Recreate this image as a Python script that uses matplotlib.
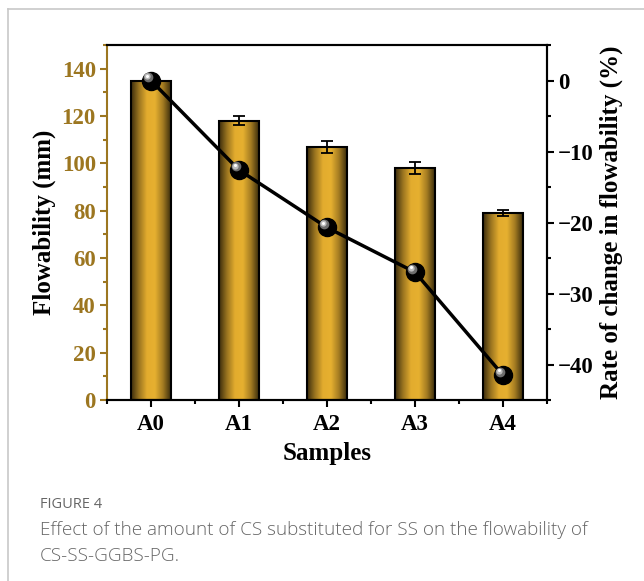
import numpy as np
import matplotlib.pyplot as plt
from matplotlib.lines import Line2D
from matplotlib.colors import LinearSegmentedColormap
from matplotlib.ticker import MultipleLocator

# Flowability data
samples = ['A0', 'A1', 'A2', 'A3', 'A4']
flowability = [135, 118, 107, 98, 79]
flow_err = [0.8, 2.0, 2.6, 2.5, 1.1]
change_rate = [0.0, -12.6, -20.7, -27.0, -41.5]

gold = '#9c7620'
serif = 'Liberation Serif'

fig = plt.figure(figsize=(6.44, 5.81), dpi=100)
ax = fig.add_axes([0.1661, 0.3115, 0.6833, 0.611])
ax2 = ax.twinx()

x = np.arange(len(samples))
width = 0.45

# bars with a horizontal gold gradient (dark edges, bright middle)
cmap = LinearSegmentedColormap.from_list('goldbar', ['#3a2c0c', '#9a7420', '#e3ac2e', '#e6b030', '#a47c22', '#3a2c0c'])
grad = np.linspace(0, 1, 256).reshape(1, -1)
for xi, h in zip(x, flowability):
    ax.imshow(grad, cmap=cmap, aspect='auto', extent=(xi - width / 2, xi + width / 2, 0, h),
              zorder=2, interpolation='bilinear')
ax.bar(x, flowability, width, facecolor='none', edgecolor='black', linewidth=1.5, zorder=3)
ax.errorbar(x, flowability, yerr=flow_err, fmt='none', ecolor='black', elinewidth=1.3,
            capsize=4, capthick=1.3, zorder=4)

ax.set_xlim(-0.5, 4.5)
ax.set_ylim(0, 150)
ax.set_xticks(x)
ax.set_xticklabels(samples)
ax.xaxis.set_minor_locator(MultipleLocator(0.5))
ax.yaxis.set_major_locator(MultipleLocator(20))
ax.yaxis.set_minor_locator(MultipleLocator(10))

# rate of change line with sphere-like markers
rate = np.array(change_rate)
ax2.plot(x, rate, color='black', linewidth=2.5, marker='o', markersize=13,
         markerfacecolor='black', markeredgecolor='black', zorder=5, clip_on=False)
ax2.plot(x - 0.035, rate + 0.5, linestyle='none', marker='o', markersize=7,
         markerfacecolor='#6e6e6e', markeredgecolor='none', zorder=6, clip_on=False)
ax2.plot(x - 0.04, rate + 0.6, linestyle='none', marker='o', markersize=4.5,
         markerfacecolor='#bdbdbd', markeredgecolor='none', zorder=7, clip_on=False)
ax2.plot(x - 0.045, rate + 0.7, linestyle='none', marker='o', markersize=2.2,
         markerfacecolor='white', markeredgecolor='none', zorder=8, clip_on=False)
ax2.set_ylim(-45, 5)
ax2.yaxis.set_major_locator(MultipleLocator(10))
ax2.yaxis.set_minor_locator(MultipleLocator(5))

ax.set_zorder(ax2.get_zorder() - 1)
ax2.patch.set_visible(False)

# spines and ticks
for sp in ['top', 'right', 'bottom']:
    ax.spines[sp].set_linewidth(1.5)
    ax2.spines[sp].set_linewidth(1.5)
ax.spines['left'].set_color(gold)
ax.spines['left'].set_linewidth(1.5)
ax2.spines['left'].set_visible(False)

ax.tick_params(axis='y', which='both', colors=gold, direction='out', width=1.5)
ax.tick_params(axis='y', which='major', length=5, labelsize=16.5, pad=3)
ax.tick_params(axis='y', which='minor', length=3)
ax.tick_params(axis='x', which='both', direction='out', width=1.5, labelsize=16.5)
ax.tick_params(axis='x', which='major', length=5, pad=5)
ax.tick_params(axis='x', which='minor', length=3)
ax2.tick_params(axis='y', which='both', direction='out', width=1.5)
ax2.tick_params(axis='y', which='major', length=5, labelsize=16.5, pad=3)
ax2.tick_params(axis='y', which='minor', length=3)

for lab in ax.get_yticklabels():
    lab.set_fontfamily(serif)
    lab.set_fontweight('bold')
    lab.set_color(gold)
for lab in ax.get_xticklabels() + ax2.get_yticklabels():
    lab.set_fontfamily(serif)
    lab.set_fontweight('bold')

ax.set_xlabel('Samples', fontfamily=serif, fontweight='bold', fontsize=18, labelpad=5)
ax.set_ylabel('Flowability (mm)', fontfamily=serif, fontweight='bold', fontsize=18, labelpad=4)
ax2.set_ylabel('Rate of change in flowability (%)', fontfamily=serif, fontweight='bold',
               fontsize=18, labelpad=4)

# card frame lines
fig.add_artist(Line2D([8 / 644, 8 / 644], [0, 1 - 9 / 581], color='#c8c8c8', linewidth=1.2))
fig.add_artist(Line2D([8 / 644, 1], [1 - 9 / 581, 1 - 9 / 581], color='#c8c8c8', linewidth=1.2))

# caption
fig.text(40 / 644, 1 - 505 / 581, 'FIGURE 4', fontfamily='Open Sans', fontsize=10.5,
         color='#666666', va='center', ha='left')
fig.text(40 / 644, 1 - 530 / 581, 'Effect of the amount of CS substituted for SS on the flowability of',
         fontfamily='Open Sans', fontsize=13.6, fontweight='light', color='#666666', va='center', ha='left')
fig.text(40 / 644, 1 - 556 / 581, 'CS-SS-GGBS-PG.', fontfamily='Open Sans', fontsize=13.6,
         fontweight='light', color='#666666', va='center', ha='left')

fig.savefig('out.png', dpi=100)
